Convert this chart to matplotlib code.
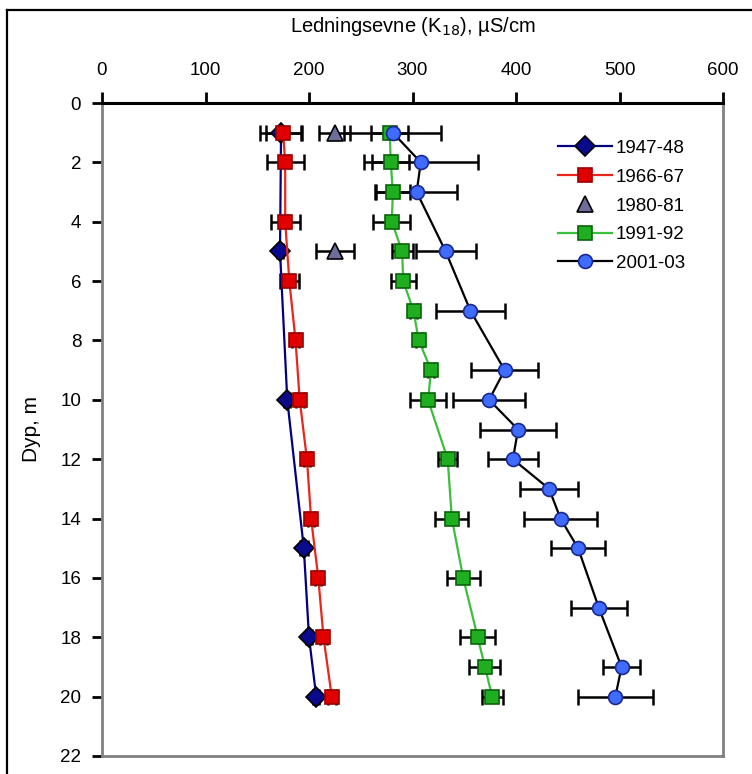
import numpy as np
import matplotlib
matplotlib.use("Agg")
from matplotlib import pyplot as plt
from matplotlib.lines import Line2D

plt.rcParams['font.family'] = ['Liberation Sans', 'DejaVu Sans']

# 1947-48
d47 = [1, 5, 10, 15, 18, 20]
v47 = [173, 172, 179, 195, 200, 207]
e47 = [20, 3, 3, 4, 3, 3]

# 1966-67
d66 = [1, 2, 4, 6, 8, 10, 12, 14, 16, 18, 20]
v66 = [175, 177, 177, 181, 187, 191, 198, 202, 209, 214, 222]
e66 = [17, 18, 14, 9, 3, 4, 3, 3, 3, 3, 4]

# 1980-81
d80 = [1, 5]
v80 = [225, 225]
e80 = [15, 18]

# 1991-92
d91 = [1, 2, 3, 4, 5, 6, 7, 8, 9, 10, 12, 14, 16, 18, 19, 20]
v91 = [278, 279, 281, 280, 290, 291, 301, 306, 318, 315, 334, 338, 349, 363, 370, 377]
e91 = [18, 18, 17, 18, 10, 12, 3, 3, 3, 17, 9, 16, 16, 17, 15, 10]

# 2001-03
d01 = [1, 2, 3, 5, 7, 9, 10, 11, 12, 13, 14, 15, 17, 19, 20]
v01 = [281, 308, 304, 332, 356, 389, 374, 402, 397, 432, 443, 460, 480, 502, 496]
e01 = [47, 55, 39, 29, 33, 32, 35, 37, 24, 28, 35, 26, 27, 18, 36]

xticks = [0, 100, 200, 300, 400, 500, 600]
yticks = [0, 2, 4, 6, 8, 10, 12, 14, 16, 18, 20, 22]

fig = plt.figure(figsize=(7.52, 7.74), dpi=100)
ax = fig.add_axes([102/752, 1 - 756/774, (723-102)/752, (756-103)/774])

# outer frame of the original figure
fig.add_artist(Line2D([7/752, 7/752], [0, 1 - 10/774], color='black', lw=1.6,
                      transform=fig.transFigure))
fig.add_artist(Line2D([7/752, 1], [1 - 10/774, 1 - 10/774], color='black', lw=1.6,
                      transform=fig.transFigure))

eb = dict(fmt='none', ecolor='black', elinewidth=1.8, capsize=6, capthick=1.8, zorder=2)
ax.errorbar(v47, d47, xerr=e47, **eb)
ax.errorbar(v66, d66, xerr=e66, **eb)
ax.errorbar(v80, d80, xerr=e80, **eb)
ax.errorbar(v91, d91, xerr=e91, **eb)
ax.errorbar(v01, d01, xerr=e01, **eb)

ax.plot(v47, d47, color='#000080', lw=1.6, marker='D', ms=10,
        mfc='#0a0a8c', mec='black', mew=1.2, label='1947-48', zorder=3)
ax.plot(v66, d66, color='#e8261b', lw=1.6, marker='s', ms=10,
        mfc='#e00000', mec='#9a0000', mew=1.2, label='1966-67', zorder=3)
ax.plot(v80, d80, ls='none', marker='^', ms=11,
        mfc='#6e6e9a', mec='black', mew=1.2, label='1980-81', zorder=3)
ax.plot(v91, d91, color='#3cbf3c', lw=1.6, marker='s', ms=10,
        mfc='#1fae1f', mec='#0a640a', mew=1.2, label='1991-92', zorder=3)
ax.plot(v01, d01, color='black', lw=1.6, marker='o', ms=10,
        mfc='#3f6bff', mec='#1a2a8e', mew=1.2, label='2001-03', zorder=4)

ax.set_xlim(0, 600)
ax.set_ylim(22, 0)
ax.set_xticks(xticks)
ax.set_yticks(yticks)
ax.xaxis.tick_top()
ax.xaxis.set_label_position('top')
ax.tick_params(axis='x', direction='out', length=8, width=2, labelsize=13.5, pad=9, colors='black')
ax.tick_params(axis='y', direction='out', length=7, width=2, labelsize=13.5, pad=8, colors='black')
ax.set_xlabel('Ledningsevne (K$_{18}$), µS/cm', fontsize=14.5, labelpad=22)
ax.set_ylabel('Dyp, m', fontsize=15, labelpad=14)

ax.spines['top'].set_color('black')
ax.spines['top'].set_linewidth(2.2)
for s in ['left', 'right', 'bottom']:
    ax.spines[s].set_color('#808080')
    ax.spines[s].set_linewidth(2)

ax.legend(loc='upper left', bbox_to_anchor=(0.722, 0.955), borderaxespad=0,
          frameon=False, fontsize=13.5, handlelength=2.9, labelspacing=0.62,
          handletextpad=0.2)

fig.savefig('out.png', dpi=100)
